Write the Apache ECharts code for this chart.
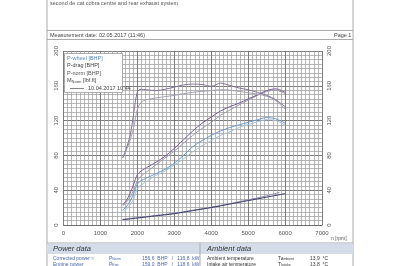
<!DOCTYPE html>
<html><head><meta charset="utf-8">
<script src="https://cdn.jsdelivr.net/npm/echarts@6/dist/echarts.min.js"></script>
<style>html,body{margin:0;padding:0;background:#fff}#c{width:400px;height:266px}</style>
</head><body><div id="c"></div>
<script>
// ---- data ----
const rpm = [1600,1700,1800,1900,2000,2100,2250,2500,2750,3000,3250,3500,3750,4000,4250,4500,4750,5000,5250,5500,5750,6000];
const pNormCur = [23,28,36,47,58,62,66,72,79,88,98,108,117,124,131,136,140,145,149.5,154.5,156.5,152.5];
const pNormCmp = [22,26,32,40,51,56,61,69,77,85,94,103,111,118,126,132,138,143.5,149,153.5,155,151];
const pWheelCur = [17,21,27,36,47,51,54,59,64,71,80,90,97,103,108,112,115,118,121,123.5,122,117];
const pWheelCmp = [14,18,23,30,42,46,50,57,62,69,76,84,91,97,103,107,112,115.5,118.5,121,120,115];
const torqueCur = [77,88,102,128,153,156,155.5,154.5,156,158.5,161,162,161.5,159.5,163,160.5,157.5,155.5,152.5,149,144,136];
const torqueCmp = [77,86,97,112,133,141,144,146,147.5,149,151,152.5,153.5,154.5,155.5,155,153.5,152,150.5,148,143,133];
const dragRpmCur = [1600,2000,2500,3000,3500,4000,4500,5000,5500,6000];
const dragCur = [6,8,10.5,13,16.5,20,24,28,32,36];
const dragRpmCmp = [1600,2000,2500,3000,3500,4000,4500,5000,5500,5850];
const dragCmp = [6.5,8.5,11,13.5,17,20.5,24.5,29,33.5,37.5];
const xTicks = [0,1000,2000,3000,4000,5000,6000,7000];
const yTicks = [0,40,80,120,160,200];

const pair = (xs, ys) => xs.map((x, i) => [x, ys[i]]);
const line = (name, xs, ys, color) => ({
  name, type: 'line', data: pair(xs, ys), smooth: 0.3, symbol: 'none',
  lineStyle: { color, width: 1 }, silent: true, animation: false
});

const F = '"Liberation Sans", Arial, sans-serif';
const chart = echarts.init(document.getElementById('c'), null, { renderer: 'canvas' });

const axisCommon = (pos) => ({
  type: 'value', min: 0, max: 200, interval: 40, position: pos,
  axisLine: { show: false }, axisTick: { show: false },
  axisLabel: { fontSize: 6, color: '#555', rotate: 90, margin: 4, fontFamily: F,
    formatter: v => yTicks.includes(v) ? String(v) : '' },
  splitLine: { show: pos === 'left', lineStyle: { color: '#6e6e6e', width: 0.9 } },
  minorTick: { show: false, splitNumber: 8 },
  minorSplitLine: { show: pos === 'left', lineStyle: { color: '#9a9a9a', width: 0.7 } }
});

chart.setOption({
  animation: false,
  grid: { left: 63.5, right: 78, top: 51, bottom: 41, show: false },
  xAxis: {
    type: 'value', min: 0, max: 7000, interval: 1000,
    axisLine: { show: true, lineStyle: { color: '#6e6e6e', width: 0.9 } },
    axisTick: { show: false },
    axisLabel: { fontSize: 6, color: '#555', margin: 5, fontFamily: F,
      formatter: v => xTicks.includes(v) ? String(v) : '' },
    splitLine: { show: true, lineStyle: { color: '#6e6e6e', width: 0.9 } },
    minorTick: { show: false, splitNumber: 9 },
    minorSplitLine: { show: true, lineStyle: { color: '#9a9a9a', width: 0.7 } }
  },
  yAxis: [axisCommon('left'), Object.assign(axisCommon('right'), { axisLabel: { fontSize: 6, color: '#555', rotate: 90, margin: 4, fontFamily: F } })],
  series: [
    line('P-drag cmp', dragRpmCmp, dragCmp, '#8d8ca6'),
    line('P-drag', dragRpmCur, dragCur, '#3c3c6c'),
    line('P-wheel cmp', rpm, pWheelCmp, '#a6c2da'),
    line('P-wheel', rpm, pWheelCur, '#6c9bc9'),
    line('P-norm cmp', rpm, pNormCmp, '#9c9aac'),
    line('P-norm', rpm, pNormCur, '#7a5f98'),
    line('M cmp', rpm, torqueCmp, '#a4a2b0'),
    line('M', rpm, torqueCur, '#857596')
  ],
  graphic: [
    // page frame
    { type: 'line', shape: { x1: 47, y1: 0, x2: 47, y2: 266 }, style: { stroke: '#aaa', lineWidth: 1 } },
    { type: 'line', shape: { x1: 353, y1: 0, x2: 353, y2: 266 }, style: { stroke: '#aaa', lineWidth: 1 } },
    { type: 'line', shape: { x1: 47, y1: 30.5, x2: 353, y2: 30.5 }, style: { stroke: '#aaa', lineWidth: 1 } },
    { type: 'line', shape: { x1: 47, y1: 39.5, x2: 353, y2: 39.5 }, style: { stroke: '#aaa', lineWidth: 1 } },
    { type: 'text', left: 50, top: 0, style: { text: 'second de cat cobra centre and rear exhaust system', fontSize: 5.5, fill: '#555', fontFamily: F } },
    { type: 'text', left: 50, top: 32, style: { text: 'Measurement date: 02.05.2017 (11:46)', fontSize: 5.5, fill: '#444', fontFamily: F } },
    { type: 'text', left: 334, top: 32, style: { text: 'Page 1', fontSize: 5.5, fill: '#444', fontFamily: F } },
    // legend box
    { type: 'rect', shape: { x: 64.5, y: 53.5, width: 58, height: 39 }, style: { fill: '#fff', stroke: '#999', lineWidth: 0.8 }, z: 100 },
    { type: 'text', left: 67, top: 55, z: 101, style: { text: 'P-wheel [BHP]', fontSize: 5.5, fill: '#5a88c0', fontFamily: F } },
    { type: 'text', left: 67, top: 62.5, z: 101, style: { text: 'P-drag [BHP]', fontSize: 5.5, fill: '#444', fontFamily: F } },
    { type: 'text', left: 67, top: 70, z: 101, style: { text: 'P-norm [BHP]', fontSize: 5.5, fill: '#555', fontFamily: F } },
    { type: 'text', left: 67, top: 77, z: 101, style: { text: '{a|M}{s|Norm}{a| [lbf.ft]}', fontFamily: F,
      rich: { a: { fontSize: 5.5, fill: '#444', fontFamily: F }, s: { fontSize: 4, fill: '#444', verticalAlign: 'bottom', padding: [3, 0, 0, 0], fontFamily: F } } } },
    { type: 'line', z: 101, shape: { x1: 70, y1: 88.5, x2: 84, y2: 88.5 }, style: { stroke: '#666', lineWidth: 0.8 } },
    { type: 'text', left: 88, top: 85.5, z: 101, style: { text: '10.04.2017 10:44', fontSize: 5.5, fill: '#444', fontFamily: F } },
    // axis name
    { type: 'text', left: 331, top: 236, style: { text: 'n [rpm]', fontSize: 5, fill: '#555', fontFamily: F } },
    // footer
    { type: 'line', shape: { x1: 47, y1: 243, x2: 353, y2: 243 }, style: { stroke: '#aaa', lineWidth: 1 } },
    { type: 'rect', shape: { x: 47, y: 243.5, width: 306, height: 10.5 }, style: { fill: '#d3dce8' } },
    { type: 'line', shape: { x1: 200, y1: 243, x2: 200, y2: 266 }, style: { stroke: '#aaa', lineWidth: 1 } },
    { type: 'text', left: 53, top: 244.5, style: { text: 'Power data', fontSize: 7.5, fontStyle: 'italic', fill: '#333', fontFamily: F } },
    { type: 'text', left: 207, top: 244.5, style: { text: 'Ambient data', fontSize: 7.5, fontStyle: 'italic', fill: '#333', fontFamily: F } },
    { type: 'text', left: 53, top: 256, style: { text: 'Corrected power \u2248', fontSize: 5, fill: '#4a66a8', fontFamily: F } },
    { type: 'text', left: 53, top: 262, style: { text: 'Engine power', fontSize: 5, fill: '#4a66a8', fontFamily: F } },
    { type: 'text', left: 109, top: 256, style: { text: '{a|P}{s|Norm}', rich: { a: { fontSize: 5, fill: '#4a66a8', fontFamily: F }, s: { fontSize: 3.5, fill: '#4a66a8', padding: [2, 0, 0, 0], fontFamily: F } } } },
    { type: 'text', left: 109, top: 262, style: { text: '{a|P}{s|Eng}', rich: { a: { fontSize: 5, fill: '#4a66a8', fontFamily: F }, s: { fontSize: 3.5, fill: '#4a66a8', padding: [2, 0, 0, 0], fontFamily: F } } } },
    { type: 'text', left: 142, top: 256, style: { text: '156,6  BHP   /   116,8  kW', fontSize: 5, fill: '#4a66a8', fontFamily: F } },
    { type: 'text', left: 142, top: 262, style: { text: '159,0  BHP   /   118,6  kW', fontSize: 5, fill: '#4a66a8', fontFamily: F } },
    { type: 'text', left: 207, top: 256, style: { text: 'Ambient temperature', fontSize: 5, fill: '#333', fontFamily: F } },
    { type: 'text', left: 207, top: 262, style: { text: 'Intake air temperature', fontSize: 5, fill: '#333', fontFamily: F } },
    { type: 'text', left: 278, top: 256, style: { text: '{a|T}{s|Ambient}', rich: { a: { fontSize: 5, fill: '#333', fontFamily: F }, s: { fontSize: 3.5, fill: '#333', padding: [2, 0, 0, 0], fontFamily: F } } } },
    { type: 'text', left: 278, top: 262, style: { text: '{a|T}{s|Intake}', rich: { a: { fontSize: 5, fill: '#333', fontFamily: F }, s: { fontSize: 3.5, fill: '#333', padding: [2, 0, 0, 0], fontFamily: F } } } },
    { type: 'text', left: 310, top: 256, style: { text: '13,9  \u00b0C', fontSize: 5, fill: '#333', fontFamily: F } },
    { type: 'text', left: 310, top: 262, style: { text: '13,8  \u00b0C', fontSize: 5, fill: '#333', fontFamily: F } }
  ]
});
</script></body></html>
